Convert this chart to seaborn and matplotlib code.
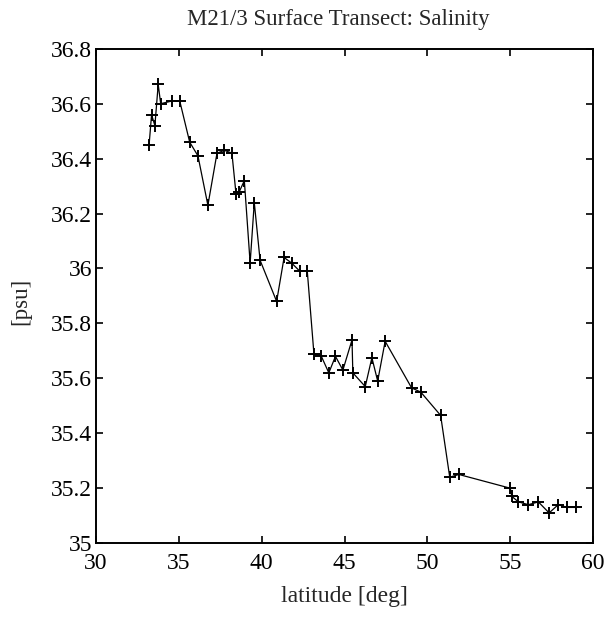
import matplotlib
matplotlib.use("Agg")
import matplotlib.pyplot as plt
from matplotlib.ticker import FuncFormatter
import seaborn as sns
import pandas as pd

# Surface salinity along the M21/3 cruise track
latitude = [33.2, 33.35, 33.55, 33.75, 33.9, 34.6, 35.05, 35.65, 36.15, 36.75,
            37.3, 37.75, 38.2, 38.45, 38.65, 38.95, 39.3, 39.55, 39.9, 40.9,
            41.35, 41.8, 42.3, 42.75, 43.15, 43.6, 44.05, 44.45, 44.9, 45.45,
            45.5, 46.25, 46.65, 47.0, 47.45, 49.05, 49.6, 50.8, 51.35, 51.9,
            55.0, 55.1, 55.5, 56.1, 56.7, 57.35, 57.9, 58.45, 59.0]
salinity = [36.45, 36.56, 36.52, 36.67, 36.60, 36.61, 36.61, 36.46, 36.41, 36.23,
            36.42, 36.43, 36.42, 36.27, 36.28, 36.32, 36.02, 36.24, 36.03, 35.88,
            36.04, 36.02, 35.99, 35.99, 35.69, 35.68, 35.62, 35.68, 35.63, 35.74,
            35.62, 35.57, 35.675, 35.59, 35.735, 35.565, 35.55, 35.465, 35.24, 35.25,
            35.20, 35.17, 35.15, 35.14, 35.15, 35.11, 35.14, 35.13, 35.13]

x_ticks = [30, 35, 40, 45, 50, 55, 60]
y_ticks = [35.0, 35.2, 35.4, 35.6, 35.8, 36.0, 36.2, 36.4, 36.6, 36.8]

df = pd.DataFrame({"latitude": latitude, "salinity": salinity})

sns.set_style("ticks")
plt.rcParams["font.family"] = ["Liberation Serif", "DejaVu Serif"]

fig = plt.figure(figsize=(6.12, 6.25), dpi=100)
ax = fig.add_axes([0.157, 0.131, 0.812, 0.791])

sns.lineplot(data=df, x="latitude", y="salinity", sort=False, estimator=None,
             color="black", linewidth=0.9, marker="+", markersize=9,
             markeredgewidth=1.4, markeredgecolor="black", ax=ax)

ax.set_xlim(30, 60)
ax.set_ylim(35, 36.8)
ax.set_xticks(x_ticks)
ax.set_yticks(y_ticks)
ax.yaxis.set_major_formatter(FuncFormatter(lambda v, p: f"{v:g}"))
ax.tick_params(axis="both", direction="in", length=5, width=1.2,
               labelsize=17, top=True, right=True, colors="black")
ax.tick_params(axis="x", pad=7)
ax.tick_params(axis="y", pad=3)
for s in ax.spines.values():
    s.set_visible(True)
    s.set_linewidth(1.4)
    s.set_color("black")

ax.set_xlabel("latitude [deg]", fontsize=17)
ax.xaxis.set_label_coords(0.5, -0.107)
ax.xaxis.label.set_va("center")
ax.set_ylabel("[psu]", fontsize=16.5)
ax.yaxis.set_label_coords(-0.151, 0.488)
ax.yaxis.label.set_va("center")

fig.text(0.552, 0.968, "M21/3 Surface Transect: Salinity", ha="center",
         va="center", fontsize=16.5)

fig.savefig("out.png", dpi=100)
